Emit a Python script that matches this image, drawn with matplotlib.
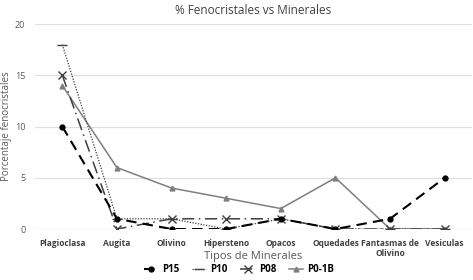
#!/usr/bin/env python
# % Fenocristales vs Minerales - line chart
import numpy as np
import matplotlib.pyplot as plt

plt.rcParams['font.family'] = ['Open Sans', 'DejaVu Sans']

categorias = ['Plagioclasa', 'Augita', 'Olivino', 'Hipersteno', 'Opacos',
              'Oquedades', 'Fantasmas de\nOlivino', 'Vesiculas']
p15 = [10, 1, 0, 0, 1, 0, 1, 5]
p10 = [18, 1, 1, 0, 1, 0, 0, 0]
p08 = [15, 0, 1, 1, 1, 0, 0, 0]
p01b = [14, 6, 4, 3, 2, 5, 0, 0]

fig = plt.figure(figsize=(4.73, 2.8), dpi=100)
ax = fig.add_axes([0.074, 0.182, 0.924, 0.732])
x = np.arange(len(categorias))

ax.plot(x, p01b, color='#7f7f7f', lw=1.1, marker='^', ms=3.5,
        label='P0-1B', zorder=2)
ax.plot(x, p10, color='#404040', lw=0.9, ls=(0, (1, 1.2)), marker='_',
        ms=7, mew=1, label='P10', zorder=3)
ax.plot(x, p08, color='#404040', lw=1.1, ls=(0, (8, 3, 1, 3)), marker='x',
        ms=6, mew=1, label='P08', zorder=4)
ax.plot(x, p15, color='black', lw=1.5, ls=(0, (5, 3)), marker='o',
        ms=3.5, label='P15', zorder=5)

ax.set_xlim(-0.5, len(categorias) - 0.5)
ax.set_ylim(0, 20)
ax.set_yticks([0, 5, 10, 15, 20])
ax.grid(axis='y', color='#e0e0e0', lw=0.9)
ax.set_axisbelow(True)
for s in ax.spines.values():
    s.set_visible(False)
ax.axhline(0, color='#d0d0d0', lw=0.9, zorder=1)

ax.set_xticks(x)
ax.set_xticklabels(categorias, fontsize=6, fontweight='bold', color='#404040')
ax.tick_params(axis='x', length=0, pad=7)
ax.tick_params(axis='y', length=0, labelsize=6.5, labelcolor='#595959', pad=7)

ax.set_title('% Fenocristales vs Minerales', fontsize=8.5, color='#404040', pad=7)
ax.set_xlabel('Tipos de Minerales', fontsize=8, color='#595959', labelpad=-5)
ax.set_ylabel('Porcentaje fenocristales', fontsize=7, color='#595959')
ax.yaxis.set_label_coords(-0.052, 0.5)

h, l = ax.get_legend_handles_labels()
order = [3, 1, 2, 0]
fig.legend([h[i] for i in order], [l[i] for i in order], loc='lower center',
           ncol=4, frameon=False, bbox_to_anchor=(0.505, -0.015),
           prop={'size': 7, 'weight': 'bold'}, handlelength=1.5,
           handletextpad=0.4, columnspacing=1.3)

plt.savefig('out.png', dpi=100)
